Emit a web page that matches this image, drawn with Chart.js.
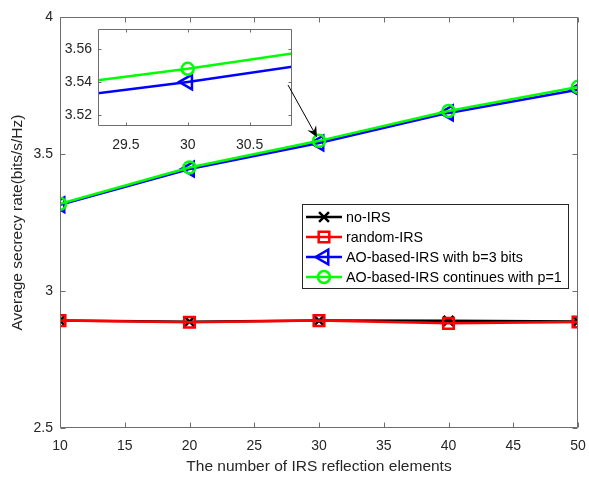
<!DOCTYPE html>
<html>
<head>
<meta charset="utf-8">
<script src="https://cdn.jsdelivr.net/npm/chart.js@4.4.0/dist/chart.umd.min.js"></script>
<style>
  html, body { margin: 0; padding: 0; background: #fff; }
  #wrap { position: relative; width: 589px; height: 479px; }
  #wrap canvas { position: absolute; left: 0; top: 0; }
</style>
</head>
<body>
<div id="wrap">
  <canvas id="main" width="589" height="479"></canvas>
  <canvas id="inset" width="589" height="479"></canvas>
</div>
<script>
// values
const elements = [10, 20, 30, 40, 50];
const noIRS = [2.892, 2.888, 2.892, 2.891, 2.889];
const randomIRS = [2.892, 2.886, 2.892, 2.882, 2.887];
const aoDiscrete = [3.315, 3.445, 3.540, 3.650, 3.735];
const aoContinuous = [3.318, 3.451, 3.548, 3.657, 3.745];
const seriesNames = ['no-IRS', 'random-IRS', 'AO-based-IRS with b=3 bits', 'AO-based-IRS continues with p=1'];

const xTicks = [10, 15, 20, 25, 30, 35, 40, 45, 50];
const yTicks = [2.5, 3, 3.5, 4];
const insetXTicks = [29.5, 30, 30.5];
const insetYTicks = [3.52, 3.54, 3.56];

const FONT = '"Liberation Sans", Arial, Helvetica, sans-serif';
const TXT = '#262626';
const AXIS = '#6e6e6e';

function pts(vals) {
  return elements.map((x, i) => ({ x: x, y: vals[i] }));
}

// marker look for each series (black x, red square, blue left triangle, green circle)
const looks = [
  { color: '#000000', style: 'crossRot', r: 7, rot: 0, order: 4 },
  { color: '#ff0000', style: 'rect', r: 7.5, rot: 0, order: 3 },
  { color: '#0000ff', style: 'triangle', r: 8.5, rot: -90, order: 2 },
  { color: '#00ff00', style: 'circle', r: 6, rot: 0, order: 1 }
];

function makeSet(i, vals) {
  const lk = looks[i];
  return {
    label: seriesNames[i],
    data: pts(vals),
    borderColor: lk.color,
    backgroundColor: 'rgba(0,0,0,0)',
    borderWidth: 2.5,
    pointStyle: lk.style,
    pointRadius: lk.r,
    pointRotation: lk.rot,
    pointBorderWidth: 2.5,
    pointBorderColor: lk.color,
    pointBackgroundColor: 'rgba(0,0,0,0)',
    order: lk.order,
    tension: 0
  };
}

// inward ticks + full box, MATLAB style
const boxTicks = {
  id: 'boxTicks',
  afterDraw(chart, args, o) {
    const { ctx, chartArea: a, scales } = chart;
    const L = Math.round(a.left) + 0.5, R = Math.round(a.right) - 0.5;
    const T = Math.round(a.top) + 0.5, B = Math.round(a.bottom) - 0.5;
    ctx.save();
    ctx.strokeStyle = AXIS;
    ctx.lineWidth = 1;
    ctx.beginPath();
    ctx.rect(L, T, R - L, B - T);
    scales.x.ticks.forEach(t => {
      const px = Math.round(scales.x.getPixelForValue(t.value)) + 0.5;
      ctx.moveTo(px, B); ctx.lineTo(px, B - o.len);
      ctx.moveTo(px, T); ctx.lineTo(px, T + o.len);
    });
    scales.y.ticks.forEach(t => {
      const py = Math.round(scales.y.getPixelForValue(t.value)) + 0.5;
      ctx.moveTo(L, py); ctx.lineTo(L + o.len, py);
      ctx.moveTo(R, py); ctx.lineTo(R - o.len, py);
    });
    ctx.stroke();
    ctx.restore();
  }
};

function drawMarker(ctx, lk, x, y) {
  const opts = { pointStyle: lk.style, radius: lk.r, rotation: lk.rot, borderWidth: 2.5 };
  ctx.strokeStyle = lk.color;
  ctx.fillStyle = 'rgba(0,0,0,0)';
  ctx.lineWidth = 2.5;
  Chart.helpers.drawPoint(ctx, opts, x, y);
}

const boxLegend = {
  id: 'boxLegend',
  afterDraw(chart, args, o) {
    const ctx = chart.ctx;
    ctx.save();
    ctx.fillStyle = '#ffffff';
    ctx.fillRect(o.left, o.top, o.width, o.height);
    ctx.strokeStyle = TXT;
    ctx.lineWidth = 1;
    ctx.strokeRect(o.left + 0.5, o.top + 0.5, o.width, o.height);
    ctx.font = o.fontSize + 'px ' + FONT;
    ctx.textBaseline = 'middle';
    ctx.textAlign = 'left';
    chart.data.datasets.forEach((ds, i) => {
      const yy = o.top + o.first + i * o.step;
      ctx.strokeStyle = ds.borderColor;
      ctx.lineWidth = 2.5;
      ctx.beginPath();
      ctx.moveTo(o.left + 4, yy);
      ctx.lineTo(o.left + 40, yy);
      ctx.stroke();
      drawMarker(ctx, looks[i], o.left + 22, yy);
      ctx.fillStyle = '#000000';
      ctx.fillText(ds.label, o.left + 44, yy + 1);
    });
    ctx.restore();
  }
};

const tickFont = { family: FONT, size: 14 };

const mainChart = new Chart(document.getElementById('main'), {
  type: 'line',
  data: {
    datasets: [
      makeSet(0, noIRS),
      makeSet(1, randomIRS),
      makeSet(2, aoDiscrete),
      makeSet(3, aoContinuous)
    ]
  },
  options: {
    responsive: false,
    animation: false,
    devicePixelRatio: 1,
    layout: { padding: { top: 17, right: 8, left: 0, bottom: 0 } },
    plugins: {
      legend: { display: false },
      tooltip: { enabled: false },
      boxTicks: { len: 5 },
      boxLegend: { left: 302, top: 204, width: 266, height: 84, first: 13, step: 20, fontSize: 14.3 }
    },
    scales: {
      x: {
        type: 'linear', min: 10, max: 50,
        afterBuildTicks: s => { s.ticks = xTicks.map(v => ({ value: v })); },
        afterFit: s => { s.height = 51; s.paddingLeft = 0; s.paddingRight = 0; },
        grid: { display: false, drawTicks: false },
        border: { display: false },
        ticks: { font: tickFont, color: TXT, padding: 10, maxRotation: 0, autoSkip: false, callback: v => String(v) },
        title: { display: true, text: 'The number of IRS reflection elements', color: TXT,
                 font: { family: FONT, size: 15.5 }, padding: { top: 0, bottom: 3 } }
      },
      y: {
        type: 'linear', min: 2.5, max: 4,
        afterBuildTicks: s => { s.ticks = yTicks.map(v => ({ value: v })); },
        afterFit: s => { s.width = 60; s.paddingTop = 0; s.paddingBottom = 0; },
        grid: { display: false, drawTicks: false },
        border: { display: false },
        ticks: { font: tickFont, color: TXT, padding: 7, autoSkip: false, callback: v => String(v) },
        title: { display: true, text: 'Average secrecy rate(bits/s/Hz)', color: TXT,
                 font: { family: FONT, size: 15.5 }, padding: { top: 8, bottom: 0 } }
      }
    }
  },
  plugins: [boxTicks, boxLegend]
});

// white inset background
const insetBg = {
  id: 'insetBg',
  beforeDraw(chart) {
    const a = chart.chartArea;
    chart.ctx.save();
    chart.ctx.fillStyle = '#ffffff';
    chart.ctx.fillRect(a.left, a.top, a.right - a.left, a.bottom - a.top);
    chart.ctx.restore();
  }
};

// arrow from the inset to the zoomed point
const zoomArrow = {
  id: 'zoomArrow',
  afterDraw(chart) {
    const ctx = chart.ctx;
    const a = chart.chartArea;
    const sx = a.right - 4, sy = a.top + 56;
    const px = mainChart.scales.x.getPixelForValue(elements[2]);
    const py = mainChart.scales.y.getPixelForValue(aoContinuous[2]);
    const ang = Math.atan2(py - sy, px - sx);
    const tx = px - Math.cos(ang) * 4, ty = py - Math.sin(ang) * 4;
    ctx.save();
    ctx.strokeStyle = '#000';
    ctx.fillStyle = '#000';
    ctx.lineWidth = 1;
    ctx.beginPath();
    ctx.moveTo(sx, sy);
    ctx.lineTo(tx - Math.cos(ang) * 6, ty - Math.sin(ang) * 6);
    ctx.stroke();
    ctx.translate(tx, ty);
    ctx.rotate(ang);
    ctx.beginPath();
    ctx.moveTo(0, 0);
    ctx.lineTo(-11, -5);
    ctx.lineTo(-7, 0);
    ctx.lineTo(-11, 5);
    ctx.closePath();
    ctx.fill();
    ctx.restore();
  }
};

new Chart(document.getElementById('inset'), {
  type: 'line',
  data: {
    datasets: [makeSet(2, aoDiscrete), makeSet(3, aoContinuous)]
  },
  options: {
    responsive: false,
    animation: false,
    devicePixelRatio: 1,
    layout: { padding: { top: 29, right: 297, left: 0, bottom: 0 } },
    plugins: {
      legend: { display: false },
      tooltip: { enabled: false },
      boxTicks: { len: 3 }
    },
    scales: {
      x: {
        type: 'linear', min: 29.275, max: 30.843,
        afterBuildTicks: s => { s.ticks = insetXTicks.map(v => ({ value: v })); },
        afterFit: s => { s.height = 353; },
        grid: { display: false, drawTicks: false },
        border: { display: false },
        ticks: { font: tickFont, color: TXT, padding: 11, maxRotation: 0, autoSkip: false, callback: v => String(v) }
      },
      y: {
        type: 'linear', min: 3.5133, max: 3.5721,
        afterBuildTicks: s => { s.ticks = insetYTicks.map(v => ({ value: v })); },
        afterFit: s => { s.width = 98; },
        grid: { display: false, drawTicks: false },
        border: { display: false },
        ticks: { font: tickFont, color: TXT, padding: 6, autoSkip: false, callback: v => String(v) }
      }
    }
  },
  plugins: [insetBg, boxTicks, zoomArrow]
});
</script>
</body>
</html>
